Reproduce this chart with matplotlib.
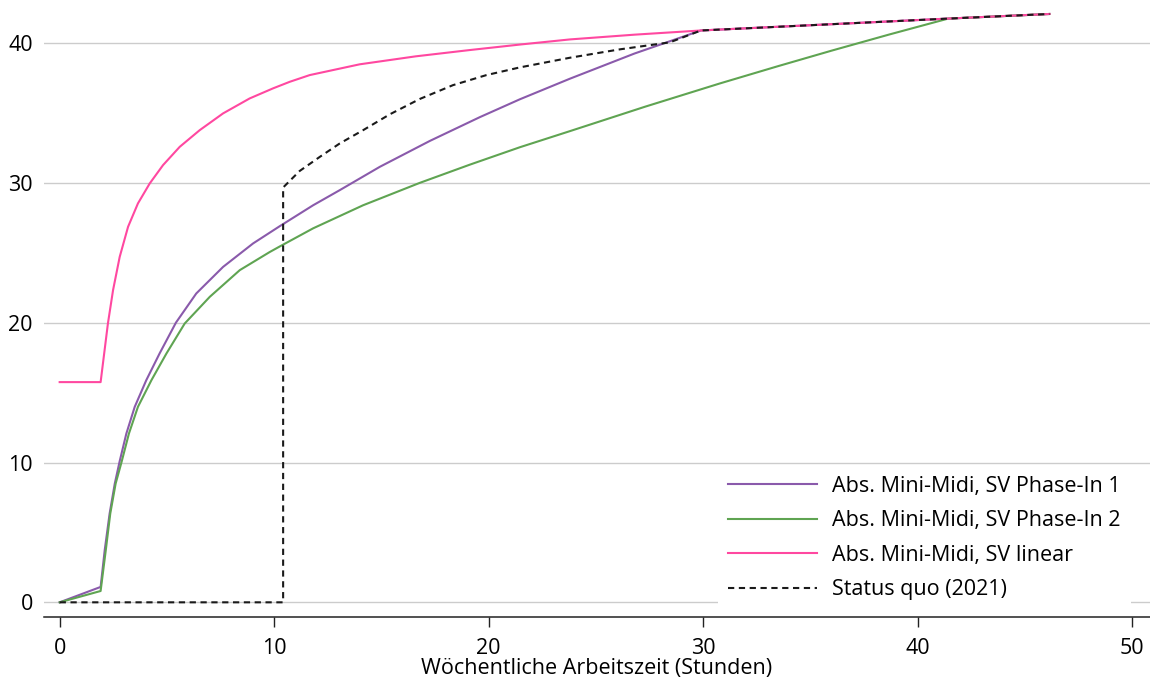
import matplotlib
matplotlib.use("Agg")
import matplotlib.pyplot as plt

plt.rcParams['font.family'] = ['Open Sans', 'DejaVu Sans']

# --- data ---
x_phase1 = [0, 1.91, 2.10, 2.33, 2.57, 2.80, 3.11, 3.50, 4.04, 4.66, 5.42, 6.37,
            7.62, 9.02, 10.26, 11.82, 13.06, 14.93, 17.26, 19.59, 21.46, 23.79, 26.8,
            29.9, 41.43, 46.15]
y_phase1 = [0, 1.1, 3.72, 6.35, 8.49, 10.1, 12.07, 13.98, 15.89, 17.8, 20.0, 22.09,
            23.99, 25.67, 26.9, 28.4, 29.48, 31.15, 33.0, 34.7, 35.98, 37.45, 39.25,
            40.9, 41.75, 42.08]

x_phase2 = [0, 1.91, 2.15, 2.36, 2.61, 2.88, 3.23, 3.65, 4.28, 4.98, 5.83, 7.0,
            8.40, 9.79, 10.26, 11.82, 14.15, 16.79, 19.12, 21.46, 23.79, 27.3, 30.78, 33.5,
            36.0, 38.7, 41.43, 46.15]
y_phase2 = [0, 0.81, 3.72, 6.35, 8.49, 10.0, 12.07, 13.98, 15.89, 17.8, 19.94, 21.85,
            23.76, 25.05, 25.45, 26.75, 28.4, 30.0, 31.3, 32.55, 33.7, 35.45, 37.11, 38.35,
            39.46, 40.62, 41.75, 42.08]

x_linear = [0, 1.91, 2.25, 2.49, 2.80, 3.19, 3.65, 4.20, 4.82, 5.60, 6.53, 7.62,
            8.86, 9.95, 10.73, 11.66, 13.99, 16.6, 19.12, 21.5, 23.79, 26.8, 29.9,
            41.43, 46.15]
y_linear = [15.75, 15.75, 19.94, 22.33, 24.71, 26.86, 28.53, 29.96, 31.27, 32.58, 33.77, 34.97,
            36.04, 36.76, 37.23, 37.71, 38.48, 39.05, 39.5, 39.9, 40.26, 40.6, 40.9,
            41.75, 42.08]

x_status = [0, 10.42, 10.42, 10.57, 11.19, 12.13, 13.06, 14.15, 15.39, 16.79, 18.34,
            19.90, 21.46, 23.79, 26.12, 28.45, 29.9, 41.43, 46.15]
y_status = [0, 0, 29.67, 29.9, 30.85, 31.86, 32.82, 33.77, 34.9, 36.0, 36.99,
            37.71, 38.26, 38.95, 39.55, 40.05, 40.9, 41.75, 42.08]

labels = ["Abs. Mini-Midi, SV Phase-In 1", "Abs. Mini-Midi, SV Phase-In 2",
          "Abs. Mini-Midi, SV linear", "Status quo (2021)"]
colors = ["#8a5aab", "#5fa452", "#ff48a0", "#1a1a1a"]
xticks = [0, 10, 20, 30, 40, 50]
yticks = [0, 10, 20, 30, 40]
xlabel = "Wöchentliche Arbeitszeit (Stunden)"

FS = 15.5

fig = plt.figure(figsize=(11.5, 6.8), dpi=100)
ax = fig.add_axes([44/1150, 63/680, 1106/1150, 617/680])

ax.plot(x_phase1, y_phase1, color=colors[0], lw=1.5, label=labels[0], zorder=3)
ax.plot(x_phase2, y_phase2, color=colors[1], lw=1.5, label=labels[1], zorder=3)
ax.plot(x_linear, y_linear, color=colors[2], lw=1.5, label=labels[2], zorder=4)
ax.plot(x_status, y_status, color=colors[3], lw=1.5, ls=(0, (3, 2.2)), label=labels[3], zorder=5)

ax.set_xlim(-0.73, 50.84)
ax.set_ylim(-1.05, 43.08)
ax.set_xticks(xticks)
ax.set_yticks(yticks)
ax.grid(axis='y', color='#cccccc', lw=1)
ax.set_axisbelow(True)
for s in ['top', 'right', 'left']:
    ax.spines[s].set_visible(False)
ax.spines['bottom'].set_color('#222222')
ax.spines['bottom'].set_linewidth(1.1)
ax.tick_params(axis='y', length=0, pad=8, labelsize=FS)
ax.tick_params(axis='x', length=7, width=1, color='#222222', pad=8, labelsize=FS)
ax.set_xlabel(xlabel, fontsize=FS)
ax.xaxis.set_label_coords(0.4995, -0.067)

leg = ax.legend(loc='lower right', bbox_to_anchor=(0.983, 0.0097), borderaxespad=0,
                fontsize=FS, frameon=True, fancybox=False, framealpha=1,
                edgecolor='none', facecolor='white', handlelength=4.1,
                handletextpad=0.7, labelspacing=0.63, borderpad=0.5)

fig.savefig("out.png", dpi=100)
